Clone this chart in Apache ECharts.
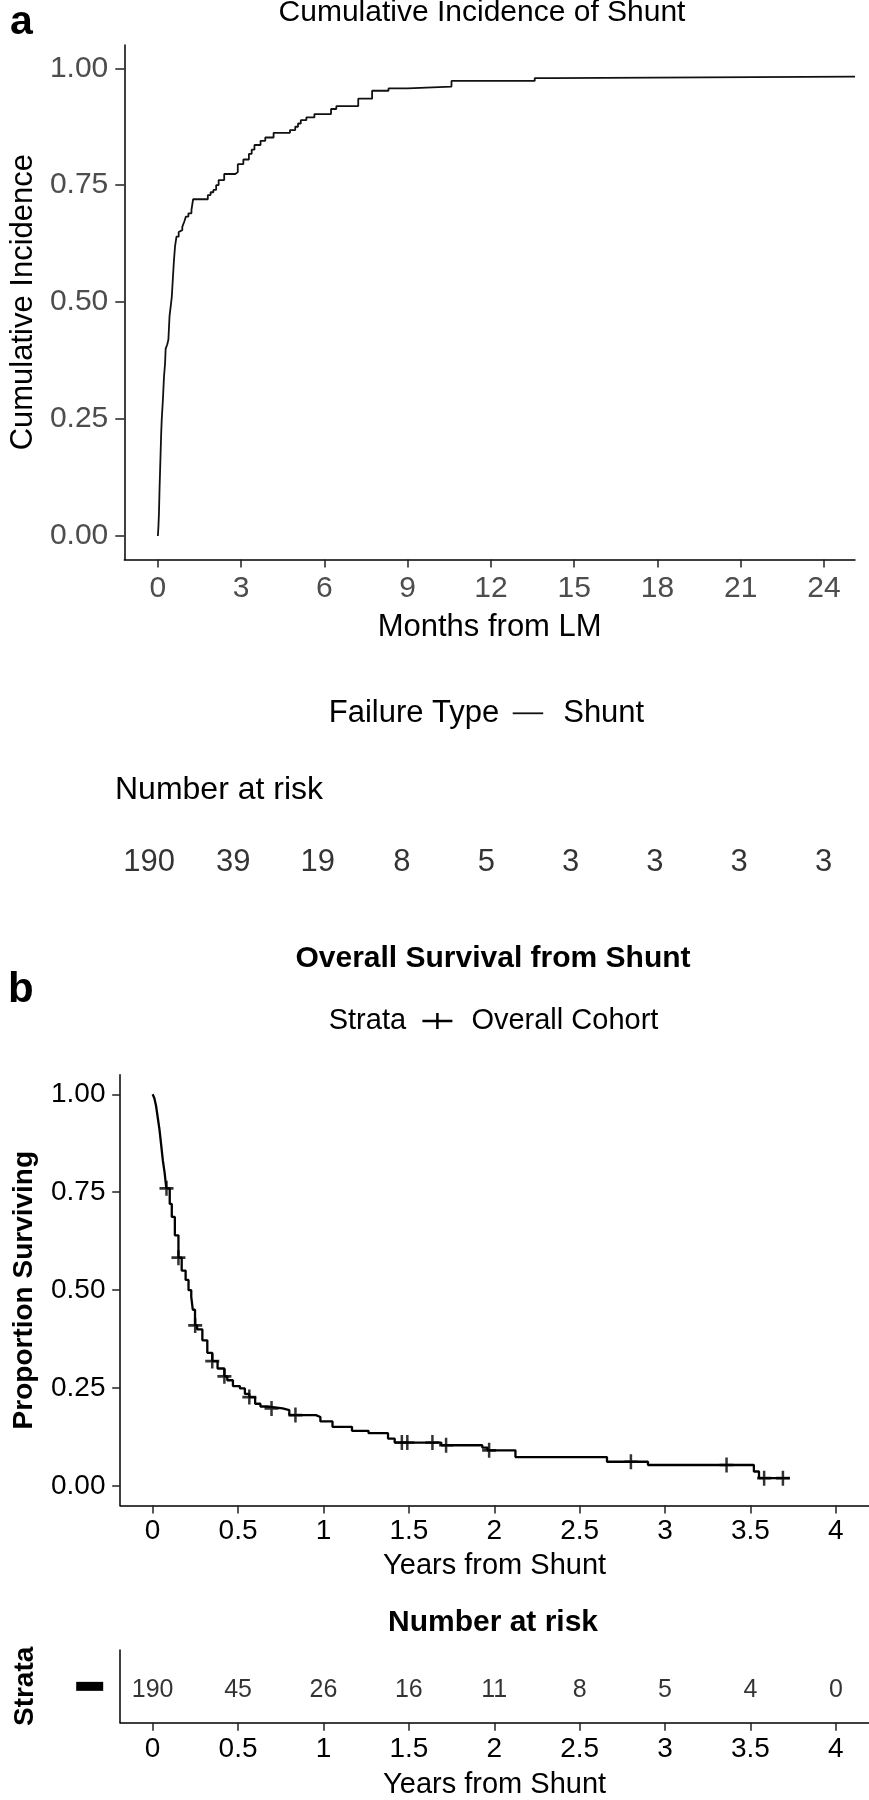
<!DOCTYPE html>
<html><head><meta charset="utf-8">
<script src="https://cdn.jsdelivr.net/npm/echarts@6/dist/echarts.min.js"></script>
<style>html,body{margin:0;padding:0;background:#fff}#c{width:869px;height:1800px}</style>
</head><body><div id="c"></div>
<script>
const FONT = '"Liberation Sans", Arial, Helvetica, sans-serif';

// ---- Panel a: cumulative incidence of shunt ----
const shuntMonths = [0,0.02,0.04,0.06,0.08,0.10,0.12,0.14,0.18,0.22,0.26,0.28,0.34,0.38,0.42,0.46,0.50,0.54,0.58,0.62,0.67,0.75,0.81,0.88,0.95,1.01,1.10,1.21,1.27,1.80,1.90,2.00,2.10,2.19,2.39,2.79,2.88,3.08,3.28,3.38,3.48,3.70,3.87,4.17,4.76,4.95,5.05,5.15,5.35,5.64,6.24,6.43,7.22,7.72,8.31,9.00,10.58,13.58,14.23,25.12];
const shuntIncidence = [0,0.02,0.05,0.10,0.14,0.18,0.22,0.25,0.29,0.34,0.37,0.40,0.41,0.42,0.47,0.49,0.51,0.55,0.59,0.62,0.64,0.65,0.654,0.661,0.672,0.683,0.690,0.697,0.720,0.729,0.735,0.740,0.750,0.761,0.774,0.778,0.795,0.805,0.817,0.826,0.836,0.845,0.852,0.862,0.868,0.875,0.882,0.889,0.895,0.902,0.913,0.919,0.935,0.952,0.957,0.961,0.973,0.979,0.982,0.982];
const monthTicks = [0,3,6,9,12,15,18,21,24];
const riskA = [190,39,19,8,5,3,3,3,3];
const incTicks = [0,0.25,0.5,0.75,1];

// ---- Panel b: overall survival from shunt ----
const survYears = [0,0.01,0.02,0.03,0.04,0.05,0.06,0.07,0.08,0.10,0.112,0.13,0.151,0.17,0.193,0.21,0.226,0.235,0.248,0.26,0.291,0.32,0.349,0.38,0.42,0.437,0.47,0.511,0.54,0.566,0.60,0.631,0.67,0.761,0.80,0.956,0.982,1.053,1.167,1.264,1.378,1.417,1.69,1.93,1.96,2.124,2.660,2.90,3.52,3.55,3.73];
const survProb = [1.0,0.99,0.97,0.94,0.91,0.87,0.83,0.80,0.76,0.72,0.687,0.64,0.583,0.55,0.526,0.50,0.483,0.45,0.41,0.40,0.372,0.34,0.319,0.30,0.28,0.27,0.255,0.249,0.235,0.227,0.21,0.203,0.198,0.194,0.181,0.176,0.165,0.151,0.141,0.135,0.121,0.111,0.104,0.098,0.091,0.074,0.062,0.0536,0.037,0.020,0.020];
const censorYears = [0.081,0.151,0.249,0.349,0.42,0.566,0.696,0.836,1.459,1.491,1.638,1.718,1.97,2.80,3.36,3.58,3.69];
const censorProb = [0.76,0.583,0.41,0.319,0.28,0.227,0.198,0.181,0.111,0.111,0.111,0.104,0.091,0.062,0.0536,0.020,0.020];
const yearTicks = [0,0.5,1,1.5,2,2.5,3,3.5,4];
const riskB = [190,45,26,16,11,8,5,4,0];
const survTicks = [0,0.25,0.5,0.75,1];

const plusPath = 'path://M0,5.75H14V8.25H0Z M5.75,0H8.25V14H5.75Z';
const legendPlus = 'path://M0,6.75H30V9.25H0Z M13.75,0H16.25V16H13.75Z';

const axLine = {show:true, onZero:false, lineStyle:{color:'#000', width:1.5}};
const axTick = (vals, len) => ({show:true, length:len, lineStyle:{color:'#222', width:1.5}, customValues: vals});

const chart = echarts.init(document.getElementById('c'), null, {renderer:'canvas'});
chart.setOption({
  animation:false,
  backgroundColor:'#fff',
  textStyle:{fontFamily:FONT},
  grid:[
    {left:115, top:44.9, width:740, height:514.5},
    {left:115, top:832, width:740, height:60},
    {left:120.2, top:1074.7, width:748.8, height:430.9},
    {left:120.2, top:1650, width:748.8, height:76.7}
  ],
  xAxis:[
    {gridIndex:0, type:'value', min:-1.21, max:25.12, splitLine:{show:false},
     axisLine:axLine, axisTick:axTick(monthTicks,8),
     axisLabel:{customValues:monthTicks, fontSize:30, color:'#4d4d4d', fontFamily:FONT, margin:29.7, verticalAlign:'middle'},
     name:'Months from LM', nameLocation:'middle', nameGap:68.3,
     nameTextStyle:{fontSize:31, color:'#000', fontFamily:FONT, verticalAlign:'middle', align:'center'}},
    {gridIndex:1, type:'value', min:-1.21, max:25.12, show:false},
    {gridIndex:2, type:'value', min:-0.19, max:4.194, splitLine:{show:false},
     axisLine:axLine, axisTick:axTick(yearTicks,8),
     axisLabel:{customValues:yearTicks, fontSize:28, color:'#000', fontFamily:FONT, margin:25.6, verticalAlign:'middle'},
     name:'Years from Shunt', nameLocation:'middle', nameGap:60.8,
     nameTextStyle:{fontSize:29, color:'#000', fontFamily:FONT, verticalAlign:'middle', align:'center'}},
    {gridIndex:3, type:'value', min:-0.19, max:4.194, splitLine:{show:false},
     axisLine:axLine, axisTick:axTick(yearTicks,8),
     axisLabel:{customValues:yearTicks, fontSize:28, color:'#000', fontFamily:FONT, margin:26.5, verticalAlign:'middle'},
     name:'Years from Shunt', nameLocation:'middle', nameGap:61.8,
     nameTextStyle:{fontSize:29, color:'#000', fontFamily:FONT, verticalAlign:'middle', align:'center'}}
  ],
  yAxis:[
    {gridIndex:0, type:'value', min:-0.05, max:1.05, splitLine:{show:false},
     axisLine:axLine, axisTick:axTick(incTicks,9),
     axisLabel:{customValues:incTicks, fontSize:30, color:'#4d4d4d', fontFamily:FONT, margin:16, formatter:v=>v.toFixed(2)},
     name:'Cumulative Incidence', nameLocation:'middle', nameGap:100,
     nameTextStyle:{fontSize:31, color:'#000', fontFamily:FONT, verticalAlign:'middle', align:'center'}},
    {gridIndex:1, type:'value', min:0, max:1, show:false},
    {gridIndex:2, type:'value', min:-0.05, max:1.05, splitLine:{show:false},
     axisLine:axLine, axisTick:axTick(survTicks,8),
     axisLabel:{customValues:survTicks, fontSize:28, color:'#000', fontFamily:FONT, margin:14.7, formatter:v=>v.toFixed(2)},
     name:'Proportion Surviving', nameLocation:'middle', nameGap:95.7,
     nameTextStyle:{fontSize:28, fontWeight:'bold', color:'#000', fontFamily:FONT, verticalAlign:'middle', align:'center'}},
    {gridIndex:3, type:'category', data:['Overall Cohort'], splitLine:{show:false},
     axisLine:axLine, axisTick:{show:false},
     axisLabel:{margin:17, formatter:()=>'{k| }', rich:{k:{width:27, height:9, backgroundColor:'#000'}}},
     name:'Strata', nameLocation:'middle', nameGap:94.7,
     nameTextStyle:{fontSize:28, fontWeight:'bold', color:'#000', fontFamily:FONT, verticalAlign:'middle', align:'center'}}
  ],
  legend:[
    {data:[{name:'Shunt', icon:'rect'}], left:512.7, top:697.8, padding:0, itemWidth:30.5, itemHeight:1.8,
     selectedMode:false, textStyle:{fontSize:31, lineHeight:31, color:'#000', fontFamily:FONT, padding:[0,0,0,15]}},
    {data:[{name:'Overall Cohort', icon:legendPlus}], left:422.4, top:1006.5, padding:0, itemWidth:30, itemHeight:16,
     selectedMode:false, textStyle:{fontSize:29, lineHeight:29, color:'#000', fontFamily:FONT, padding:[0,0,0,14]}}
  ],
  graphic:[
    {type:'text', x:10, y:22.3, style:{text:'a', font:'bold 41px '+FONT, fill:'#000', align:'left', verticalAlign:'middle'}},
    {type:'text', x:482, y:12.5, style:{text:'Cumulative Incidence of Shunt', font:'30px '+FONT, fill:'#000', align:'center', verticalAlign:'middle'}},
    {type:'text', x:328.7, y:713.3, style:{text:'Failure Type', font:'31px '+FONT, fill:'#000', align:'left', verticalAlign:'middle'}},
    {type:'text', x:115, y:790, style:{text:'Number at risk', font:'32px '+FONT, fill:'#000', align:'left', verticalAlign:'middle'}},
    {type:'text', x:8, y:990, style:{text:'b', font:'bold 42px '+FONT, fill:'#000', align:'left', verticalAlign:'middle'}},
    {type:'text', x:493, y:959, style:{text:'Overall Survival from Shunt', font:'bold 30px '+FONT, fill:'#000', align:'center', verticalAlign:'middle'}},
    {type:'text', x:328.7, y:1021, style:{text:'Strata', font:'29px '+FONT, fill:'#000', align:'left', verticalAlign:'middle'}},
    {type:'text', x:493, y:1622.5, style:{text:'Number at risk', font:'bold 30px '+FONT, fill:'#000', align:'center', verticalAlign:'middle'}}
  ],
  series:[
    {name:'Shunt', type:'line', xAxisIndex:0, yAxisIndex:0, step:'end', symbol:'none',
     lineStyle:{color:'#111', width:1.8}, itemStyle:{color:'#111'},
     data:shuntMonths.map((t,i)=>[t, shuntIncidence[i]])},
    {name:'riskA', type:'scatter', xAxisIndex:1, yAxisIndex:1, symbolSize:0, silent:true,
     label:{show:true, position:'inside', fontSize:31, color:'#000', fontFamily:FONT, formatter:p=>String(riskA[p.dataIndex])},
     data:monthTicks.map(t=>[t,0.5])},
    {name:'Overall Cohort', type:'line', xAxisIndex:2, yAxisIndex:2, step:'end', symbol:'none',
     lineStyle:{color:'#000', width:2.3}, itemStyle:{color:'#000'},
     data:survYears.map((t,i)=>[t, survProb[i]])},
    {name:'Overall Cohort', type:'scatter', xAxisIndex:2, yAxisIndex:2, symbol:plusPath, symbolSize:[14,15],
     itemStyle:{color:'#000'}, data:censorYears.map((t,i)=>[t, censorProb[i]])},
    {name:'riskB', type:'scatter', xAxisIndex:3, yAxisIndex:3, symbolSize:0, silent:true,
     label:{show:true, position:'inside', offset:[0,4], fontSize:25, color:'#000', fontFamily:FONT, formatter:p=>String(riskB[p.dataIndex])},
     data:yearTicks.map(t=>[t,'Overall Cohort'])}
  ]
});
</script>
</body></html>
